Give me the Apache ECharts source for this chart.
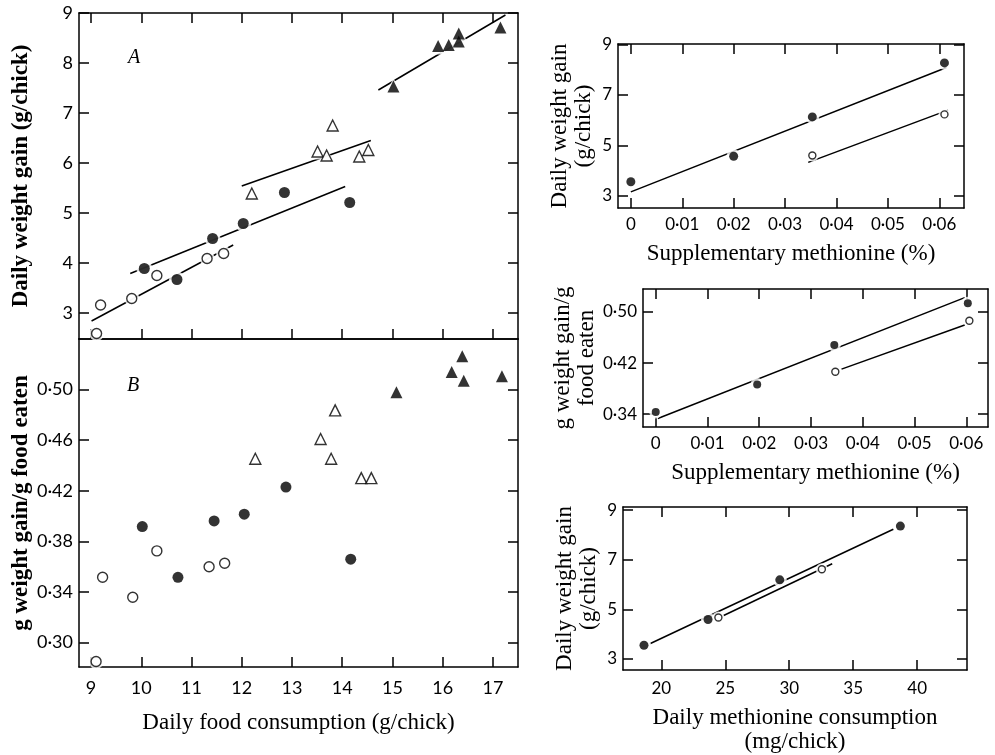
<!DOCTYPE html>
<html>
<head>
<meta charset="utf-8">
<title>Chick weight gain, food and methionine</title>
<script src="https://cdn.jsdelivr.net/npm/echarts@6/dist/echarts.min.js"></script>
<style>
  html, body { margin: 0; padding: 0; background: #fff; }
  #chart { width: 995px; height: 755px; }
</style>
</head>
<body>
<div id="chart"></div>
<script>
// tick values
const foodTicks = [9, 10, 11, 12, 13, 14, 15, 16, 17];
const gainTicks = [3, 4, 5, 6, 7, 8, 9];
const effTicks = [0.30, 0.34, 0.38, 0.42, 0.46, 0.50];
const metTicks = [0, 0.01, 0.02, 0.03, 0.04, 0.05, 0.06];
const gainTicksR = [3, 5, 7, 9];
const effTicksR = [0.34, 0.42, 0.50];
const metIntakeTicks = [20, 25, 30, 35, 40];

// A: daily weight gain vs daily food consumption
const aOpenCircle = [[9.11, 2.59], [9.19, 3.16], [9.81, 3.29], [10.31, 3.75], [11.31, 4.09], [11.64, 4.19]];
const aFilledCircle = [[10.06, 3.89], [10.71, 3.67], [11.42, 4.49], [12.03, 4.79], [12.85, 5.41], [14.15, 5.21]];
const aOpenTri = [[12.2, 5.39], [13.51, 6.23], [13.69, 6.15], [13.81, 6.75], [14.34, 6.13], [14.52, 6.26]];
const aFilledTri = [[15.02, 7.53], [15.91, 8.34], [16.12, 8.36], [16.32, 8.59], [16.32, 8.43], [17.15, 8.71]];
const aLineOpenCircle = [[9.01, 2.84], [11.83, 4.36]];
const aLineFilledCircle = [[9.78, 3.79], [14.06, 5.53]];
const aLineOpenTri = [[12.0, 5.54], [14.57, 6.45]];
const aLineFilledTri = [[14.72, 7.46], [17.25, 8.96]];

// B: g weight gain / g food eaten vs daily food consumption
const bOpenCircle = [[9.1, 0.285], [9.23, 0.3516], [9.83, 0.3358], [10.31, 0.3725], [11.35, 0.360], [11.66, 0.3627]];
const bFilledCircle = [[10.02, 0.3917], [10.73, 0.3516], [11.45, 0.3962], [12.05, 0.4015], [12.88, 0.4229], [14.17, 0.3659]];
const bOpenTri = [[12.27, 0.4453], [13.57, 0.4609], [13.86, 0.4836], [13.78, 0.4453], [14.38, 0.430], [14.58, 0.430]];
const bFilledTri = [[15.08, 0.498], [16.18, 0.514], [16.39, 0.5264], [16.42, 0.507], [17.18, 0.5105]];

// right top: daily weight gain vs supplementary methionine
const r1Filled = [[0, 3.56], [0.02, 4.57], [0.0353, 6.13], [0.061, 8.27]];
const r1Open = [[0.0353, 4.6], [0.061, 6.23]];
const r1LineFilled = [[0, 3.16], [0.0614, 8.09]];
const r1LineOpen = [[0.0345, 4.33], [0.0617, 6.40]];

// right middle: gain / food eaten vs supplementary methionine
const r2Filled = [[0, 0.3436], [0.0196, 0.3866], [0.0345, 0.4482], [0.0603, 0.5137]];
const r2Open = [[0.0347, 0.4064], [0.0606, 0.4864]];
const r2LineFilled = [[0.0004, 0.3333], [0.0597, 0.5225]];
const r2LineOpen = [[0.0359, 0.4106], [0.0597, 0.4796]];

// right bottom: daily weight gain vs daily methionine consumption
const r3Filled = [[18.64, 3.55], [23.65, 4.59], [29.26, 6.19], [38.69, 8.36]];
const r3Open = [[24.46, 4.67], [32.55, 6.62]];
const r3LineFilled = [[19.1, 3.61], [38.14, 8.23]];
const r3LineOpen = [[24.83, 4.74], [33.36, 6.84]];

const serif = 'Liberation Serif';
const numFont = 'Lato';

const dot = v => (v === 0 ? '0' : v.toFixed(2).replace('.', '·'));
const int = v => String(Math.round(v));

function axis(kind, grid, pos, min, max, ticks, opt) {
  opt = opt || {};
  const a = {
    type: 'value',
    gridIndex: grid,
    position: pos,
    min: min,
    max: max,
    axisLine: { show: true, onZero: false, lineStyle: { color: '#000', width: 1.5 } },
    splitLine: { show: false },
    axisTick: {
      show: opt.noTicks ? false : true,
      inside: true,
      length: opt.tickLen || 10,
      customValues: ticks,
      lineStyle: { color: '#000', width: 1.5 }
    },
    axisLabel: {
      show: !!opt.fmt,
      customValues: ticks,
      formatter: opt.fmt,
      color: '#000',
      fontFamily: numFont,
      fontSize: opt.fontSize || 18,
      margin: opt.margin || 6
    }
  };
  if (opt.name) {
    a.name = opt.name;
    a.nameLocation = 'middle';
    a.nameGap = opt.nameGap;
    a.nameRotate = kind === 'y' ? 90 : 0;
    a.nameTextStyle = {
      color: '#000',
      fontFamily: serif,
      fontSize: opt.nameSize || 23,
      fontWeight: opt.bold ? 'bold' : 'normal',
      lineHeight: 24
    };
  }
  return a;
}

function points(k, data, symbol, size, filled) {
  return [
    { // white halo that breaks the fitted line around each point
      type: 'scatter', xAxisIndex: 2 * k, yAxisIndex: 2 * k, data: data, z: 2,
      symbol: symbol, symbolSize: size + 5, silent: true,
      itemStyle: { color: '#fff' }
    },
    {
      type: 'scatter', xAxisIndex: 2 * k, yAxisIndex: 2 * k, data: data, z: 3,
      symbol: symbol, symbolSize: size,
      itemStyle: filled ? { color: '#000' } : { color: '#fff', borderColor: '#000', borderWidth: 1.4 }
    }
  ];
}

function fit(k, data) {
  return {
    type: 'line', xAxisIndex: 2 * k, yAxisIndex: 2 * k, data: data, z: 1,
    symbol: 'none', lineStyle: { color: '#000', width: 1.5 }
  };
}

const myChart = echarts.init(document.getElementById('chart'));

const option = {
  animation: false,
  backgroundColor: '#fff',
  grid: [
    { left: 79, top: 13, width: 439, height: 326 },   // A
    { left: 79, top: 339, width: 439, height: 328 },  // B
    { left: 618, top: 44, width: 346, height: 164 },  // right top
    { left: 643, top: 289, width: 345, height: 138 }, // right middle
    { left: 623, top: 507, width: 344, height: 165 }  // right bottom
  ],
  xAxis: [
    axis('x', 0, 'bottom', 8.76, 17.5, foodTicks),
    axis('x', 0, 'top', 8.76, 17.5, foodTicks),
    axis('x', 1, 'bottom', 8.76, 17.5, foodTicks, { fmt: int, margin: 12, name: 'Daily food consumption (g/chick)', nameGap: 44 }),
    axis('x', 1, 'top', 8.76, 17.5, foodTicks, { noTicks: true }),
    axis('x', 2, 'bottom', -0.0025, 0.0648, metTicks, { fmt: dot, fontSize: 17, margin: 8, name: 'Supplementary methionine (%)', nameGap: 34 }),
    axis('x', 2, 'top', -0.0025, 0.0648, metTicks),
    axis('x', 3, 'bottom', -0.00246, 0.0642, metTicks, { fmt: dot, fontSize: 17, margin: 8, name: 'Supplementary methionine (%)', nameGap: 34 }),
    axis('x', 3, 'top', -0.00246, 0.0642, metTicks),
    axis('x', 4, 'bottom', 17.0, 43.9, metIntakeTicks, { fmt: int, fontSize: 17, margin: 10, name: 'Daily methionine consumption\n(mg/chick)', nameGap: 36, nameSize: 23 }),
    axis('x', 4, 'top', 17.0, 43.9, metIntakeTicks)
  ],
  yAxis: [
    axis('y', 0, 'left', 2.48, 9, gainTicks, { fmt: int, name: 'Daily weight gain (g/chick)', nameGap: 46, bold: true }),
    axis('y', 0, 'right', 2.48, 9, gainTicks),
    axis('y', 1, 'left', 0.2807, 0.54, effTicks, { fmt: dot, name: 'g weight gain/g food eaten', nameGap: 46, bold: true }),
    axis('y', 1, 'right', 0.2807, 0.54, effTicks),
    axis('y', 2, 'left', 2.52, 9.02, gainTicksR, { fmt: int, fontSize: 17, name: 'Daily weight gain\n(g/chick)', nameGap: 22 }),
    axis('y', 2, 'right', 2.52, 9.02, gainTicksR),
    axis('y', 3, 'left', 0.32, 0.536, effTicksR, { fmt: dot, fontSize: 17, name: 'g weight gain/g\nfood eaten', nameGap: 44 }),
    axis('y', 3, 'right', 0.32, 0.536, effTicksR),
    axis('y', 4, 'left', 2.55, 9.13, gainTicksR, { fmt: int, fontSize: 17, name: 'Daily weight gain\n(g/chick)', nameGap: 22 }),
    axis('y', 4, 'right', 2.55, 9.13, gainTicksR)
  ],
  graphic: [
    { type: 'text', left: 128, top: 48, style: { text: 'A', font: 'italic 20px "Liberation Serif"', fill: '#000' } },
    { type: 'text', left: 127, top: 376, style: { text: 'B', font: 'italic 20px "Liberation Serif"', fill: '#000' } }
  ],
  series: [
    fit(0, aLineOpenCircle), fit(0, aLineFilledCircle), fit(0, aLineOpenTri), fit(0, aLineFilledTri),
    ...points(0, aOpenCircle, 'circle', 10, false),
    ...points(0, aFilledCircle, 'circle', 11, true),
    ...points(0, aOpenTri, 'triangle', 11, false),
    ...points(0, aFilledTri, 'triangle', 12, true),

    ...points(1, bOpenCircle, 'circle', 10, false),
    ...points(1, bFilledCircle, 'circle', 11, true),
    ...points(1, bOpenTri, 'triangle', 11, false),
    ...points(1, bFilledTri, 'triangle', 12, true),

    fit(2, r1LineFilled), fit(2, r1LineOpen),
    ...points(2, r1Filled, 'circle', 9, true),
    ...points(2, r1Open, 'circle', 7, false),

    fit(3, r2LineFilled), fit(3, r2LineOpen),
    ...points(3, r2Filled, 'circle', 8, true),
    ...points(3, r2Open, 'circle', 7, false),

    fit(4, r3LineFilled), fit(4, r3LineOpen),
    ...points(4, r3Filled, 'circle', 9, true),
    ...points(4, r3Open, 'circle', 7, false)
  ]
};

myChart.setOption(option);
</script>
</body>
</html>
